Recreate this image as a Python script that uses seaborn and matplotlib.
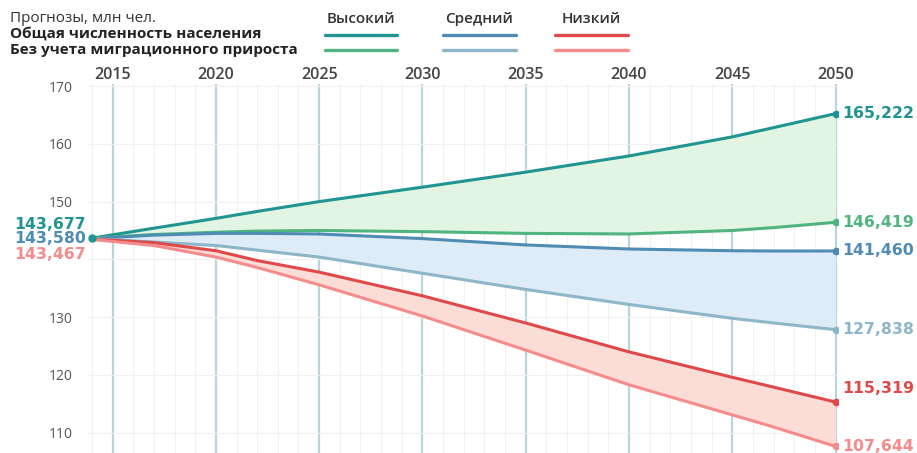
import matplotlib as mpl
import matplotlib.pyplot as plt
import seaborn as sns
import pandas as pd

# Use a non-interactive backend
mpl.use('Agg')

years = [2014, 2015, 2017, 2020, 2022, 2025, 2030, 2035, 2040, 2045, 2047, 2050]

# forecasts, mln people
high = [143.677, 144.25, 145.4, 147.1, 148.3, 150.0, 152.5, 155.1, 157.9, 161.2, 162.8, 165.222]
high_nomig = [143.677, 143.9, 144.3, 144.7, 144.9, 145.0, 144.8, 144.5, 144.4, 145.0, 145.5, 146.419]
medium = [143.580, 143.8, 144.2, 144.5, 144.5, 144.4, 143.6, 142.5, 141.8, 141.5, 141.45, 141.460]
medium_nomig = [143.580, 143.4, 143.0, 142.4, 141.6, 140.4, 137.6, 134.8, 132.2, 129.8, 129.0, 127.838]
low = [143.467, 143.3, 142.9, 141.5, 139.8, 137.8, 133.7, 129.0, 124.0, 119.6, 117.9, 115.319]
low_nomig = [143.467, 143.1, 142.4, 140.4, 138.6, 135.6, 130.2, 124.3, 118.3, 113.1, 111.0, 107.644]

start_labels = ["143,677", "143,580", "143,467"]
end_labels = ["165,222", "146,419", "141,460", "127,838", "115,319", "107,644"]

scenarios = ["Высокий", "Средний", "Низкий"]
row_titles = ["Прогнозы, млн чел.", "Общая численность населения",
              "Без учета миграционного прироста"]
ytick_vals = [110, 120, 130, 150, 160, 170]

colors = {
    "high": "#1f9490", "high_nomig": "#4fb47f",
    "medium": "#4e8cb3", "medium_nomig": "#8db6c9",
    "low": "#e0494a", "low_nomig": "#f58b8b",
}
fills = ["#e1f5e2", "#ddecf6", "#fcdcd7"]

series = {
    "high": high, "high_nomig": high_nomig,
    "medium": medium, "medium_nomig": medium_nomig,
    "low": low, "low_nomig": low_nomig,
}
rows = []
for name, vals in series.items():
    for y, v in zip(years, vals):
        rows.append({"year": y, "value": v, "series": name})
df = pd.DataFrame(rows)

sns.set_theme(style="white")
plt.rcParams['font.family'] = ['Open Sans', 'DejaVu Sans']
num_font = ['DejaVu Sans']

fig = plt.figure(figsize=(9.17, 4.53), dpi=100)
ax = fig.add_axes([88 / 917, 0, 750 / 917, 369 / 453])

# background grid
for yr in range(2014, 2051):
    major = yr % 5 == 0
    ax.axvline(yr, color="#b7d6da" if major else "#edf2f3",
               lw=1.6 if major else 0.8, zorder=0)
for v in range(110, 171, 10):
    ax.axhline(v, color="#f0f0f0", lw=0.8, zorder=0)

# shaded bands
pairs = [("high", "high_nomig"), ("medium", "medium_nomig"), ("low", "low_nomig")]
for (a, b), fc in zip(pairs, fills):
    ax.fill_between(years, series[a], series[b], color=fc, lw=0, zorder=1)

sns.lineplot(data=df, x="year", y="value", hue="series", palette=colors,
             hue_order=list(series.keys()), lw=2.2, legend=False, ax=ax,
             zorder=3)

# end markers and labels
label_offsets = [0, 0, 0, 0, 2.4, 0]
for (name, vals), lab, off in zip(series.items(), end_labels, label_offsets):
    ax.plot(years[-1], vals[-1], "o", ms=4.5, color=colors[name], zorder=4)
    ax.text(years[-1] + 0.3, vals[-1] + off, lab, color=colors[name],
            fontsize=11.3, fontweight="bold", va="center", ha="left",
            family=num_font, clip_on=False)
ax.plot(years[0], high[0], "o", ms=5, color=colors["high"], zorder=5)

start_cols = [colors["high"], colors["medium"], colors["low_nomig"]]
for lab, c, dy in zip(start_labels, start_cols, [2.5, 0, -2.8]):
    ax.text(years[0] - 0.3, medium[0] + dy, lab, color=c, fontsize=11.3,
            fontweight="bold", va="center", ha="right", family=num_font,
            clip_on=False)

ax.set_xlim(2013.81, 2050.12)
ax.set_ylim(106.5, 170.35)
ax.set_xticks(range(2015, 2051, 5))
ax.set_yticks(ytick_vals)
ax.xaxis.tick_top()
ax.tick_params(axis="x", length=0, pad=1, labelsize=11.5, labelcolor="#444444")
ax.tick_params(axis="y", length=0, pad=11, labelsize=10, labelcolor="#555555")
for t in ax.get_xticklabels():
    t.set_fontweight("semibold")
ax.set_xlabel("")
ax.set_ylabel("")
for s in ax.spines.values():
    s.set_visible(False)

# header legend
fig.text(10 / 917, 1 - 18 / 453, row_titles[0], fontsize=11, color="#333333",
         va="center")
fig.text(10 / 917, 1 - 34 / 453, row_titles[1], fontsize=11, color="#222222",
         va="center", fontweight="bold")
fig.text(10 / 917, 1 - 50 / 453, row_titles[2], fontsize=11, color="#222222",
         va="center", fontweight="bold")
spans = [(325, 397), (443, 516), (555, 628)]
line_keys = [("high", "high_nomig"), ("medium", "medium_nomig"), ("low", "low_nomig")]
for scen, (x0, x1), (k1, k2) in zip(scenarios, spans, line_keys):
    fig.text((x0 + x1) / 2 / 917, 1 - 19 / 453, scen, fontsize=11,
             color="#333333", ha="center", va="center", fontweight="semibold")
    fig.add_artist(plt.Line2D([x0 / 917, x1 / 917], [1 - 35 / 453] * 2,
                              color=colors[k1], lw=2.4))
    fig.add_artist(plt.Line2D([x0 / 917, x1 / 917], [1 - 50 / 453] * 2,
                              color=colors[k2], lw=2.4))

fig.savefig("out.png", dpi=100)
plt.close(fig)
